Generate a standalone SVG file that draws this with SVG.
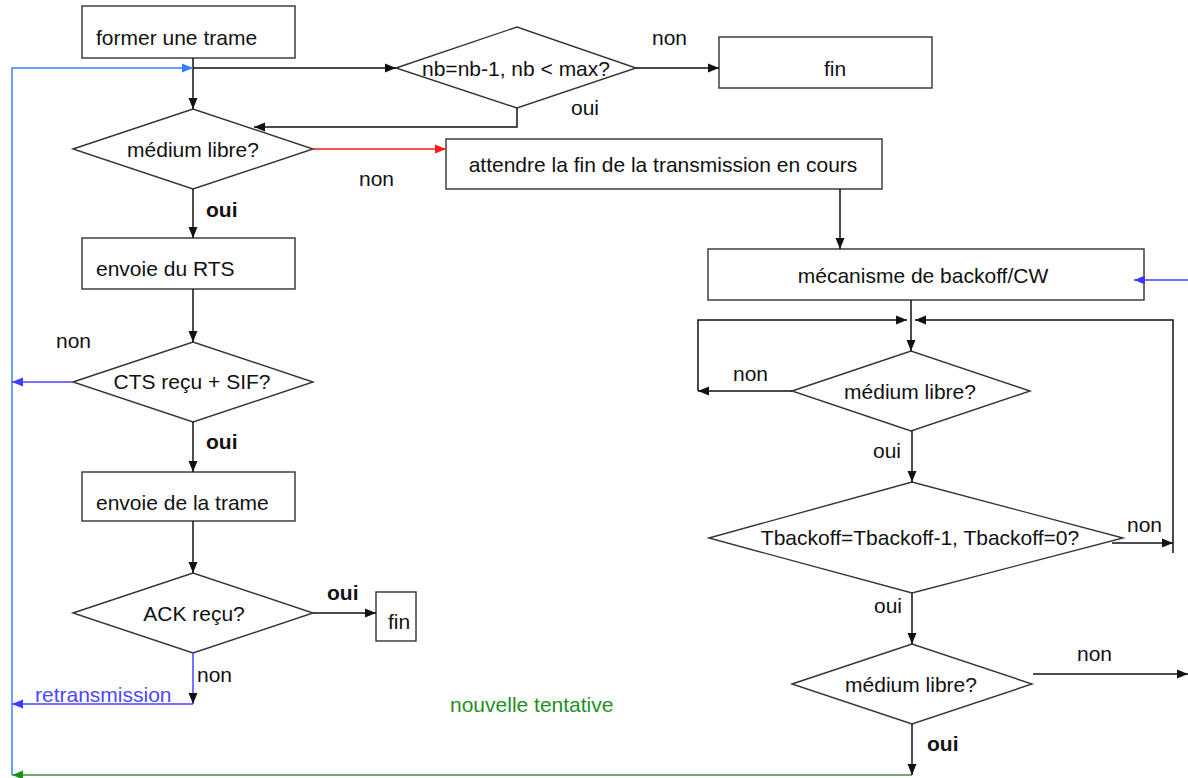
<svg xmlns="http://www.w3.org/2000/svg" width="1188" height="778" viewBox="0 0 1188 778">
<style>
.box{fill:#fff;stroke:#333;stroke-width:1.4}
.t{font-family:"Liberation Sans",Arial,sans-serif;font-size:21px;fill:#111}
.c{text-anchor:middle}
.b{font-weight:bold}
.ln{fill:none;stroke:#111;stroke-width:1.5}
.red{stroke:#ff1a1a}
.blue{stroke:#3385ff}
.purp{stroke:#4646ff}
.green{stroke:#6fae6f;stroke-width:2}
</style>
<defs>
<marker id="ak" markerUnits="userSpaceOnUse" markerWidth="12" markerHeight="10" refX="11" refY="5" orient="auto"><path d="M0,0.5 L11,5 L0,9.5 z" fill="#111"/></marker>
<marker id="ar" markerUnits="userSpaceOnUse" markerWidth="12" markerHeight="10" refX="11" refY="5" orient="auto"><path d="M0,0.5 L11,5 L0,9.5 z" fill="#ff1a1a"/></marker>
<marker id="ab" markerUnits="userSpaceOnUse" markerWidth="12" markerHeight="10" refX="11" refY="5" orient="auto"><path d="M0,0.5 L11,5 L0,9.5 z" fill="#2f7fff"/></marker>
<marker id="ap" markerUnits="userSpaceOnUse" markerWidth="12" markerHeight="10" refX="11" refY="5" orient="auto"><path d="M0,0.5 L11,5 L0,9.5 z" fill="#3c3cff"/></marker>
<marker id="ag" markerUnits="userSpaceOnUse" markerWidth="12" markerHeight="10" refX="11" refY="5" orient="auto"><path d="M0,0.5 L11,5 L0,9.5 z" fill="#1f8f1f"/></marker>
</defs>

<g id="former"><rect class="box" x="82" y="6" width="213" height="52"/><text class="t" x="96" y="45">former une trame</text></g>
<g id="nb"><polygon class="box" points="396,68 517,27 636,68 517,108"/><text class="t c" x="516" y="76">nb=nb-1, nb &lt; max?</text></g>
<g id="fin1"><rect class="box" x="719" y="37" width="213" height="51"/><text class="t c" x="835" y="76">fin</text></g>
<g id="medium1"><polygon class="box" points="73,149 193,109 313,149 193,189"/><text class="t c" x="193" y="157">médium libre?</text></g>
<g id="attendre"><rect class="box" x="446" y="139" width="436" height="50"/><text class="t c" x="663" y="172">attendre la fin de la transmission en cours</text></g>
<g id="rts"><rect class="box" x="82" y="238" width="213" height="51"/><text class="t" x="96" y="276">envoie du RTS</text></g>
<g id="cts"><polygon class="box" points="73,382 193,342 313,382 193,422"/><text class="t c" x="192" y="389">CTS reçu + SIF?</text></g>
<g id="trame"><rect class="box" x="82" y="472" width="213" height="49"/><text class="t" x="96" y="510">envoie de la trame</text></g>
<g id="ack"><polygon class="box" points="73,613 193,573 313,613 193,653"/><text class="t c" x="194" y="621">ACK reçu?</text></g>
<g id="fin2"><rect class="box" x="376" y="592" width="40" height="49"/><text class="t" x="388" y="629">fin</text></g>
<g id="backoff"><rect class="box" x="708" y="249" width="436" height="51"/><text class="t c" x="923" y="283">mécanisme de backoff/CW</text></g>
<g id="medium2"><polygon class="box" points="792,391 911,351 1030,391 911,431"/><text class="t c" x="910" y="399">médium libre?</text></g>
<g id="tbackoff"><polygon class="box" points="709,538 912,482 1123,538 912,593"/><text class="t c" x="920" y="545">Tbackoff=Tbackoff-1, Tbackoff=0?</text></g>
<g id="medium3"><polygon class="box" points="792,684 912,644 1032,684 912,724"/><text class="t c" x="911" y="692">médium libre?</text></g>

<g id="connectors">
<path class="ln" d="M193,58 L193,109" marker-end="url(#ak)"/>
<path class="ln" d="M193,68 L396,68" marker-end="url(#ak)"/>
<path class="ln blue" d="M12,775 L12,68 L193,68" marker-end="url(#ab)"/>
<path class="ln" d="M636,68 L719,68" marker-end="url(#ak)"/>
<path class="ln" d="M517,108 L517,127 L254,127" marker-end="url(#ak)"/>
<path class="ln red" d="M313,149 L446,149" marker-end="url(#ar)"/>
<path class="ln" d="M193,189 L193,238" marker-end="url(#ak)"/>
<path class="ln" d="M193,289 L193,342" marker-end="url(#ak)"/>
<path class="ln purp" d="M73,382 L12,382" marker-end="url(#ap)"/>
<path class="ln" d="M193,422 L193,472" marker-end="url(#ak)"/>
<path class="ln" d="M193,521 L193,573" marker-end="url(#ak)"/>
<path class="ln" d="M313,613 L376,613" marker-end="url(#ak)"/>
<path class="ln purp" d="M193,653 L193,704" marker-end="url(#ak)"/>
<path class="ln purp" d="M193,704 L12,704" marker-end="url(#ap)"/>
<path class="ln green" d="M912,775 L12,775" marker-end="url(#ag)"/>
<path class="ln" d="M840,189 L840,249" marker-end="url(#ak)"/>
<path class="ln purp" d="M1188,280 L1134,280" marker-end="url(#ap)"/>
<path class="ln" d="M911,300 L911,351" marker-end="url(#ak)"/>
<path class="ln" d="M792,391 L698,391" marker-end="url(#ak)"/>
<path class="ln" d="M698,391 L698,320 L907,320" marker-end="url(#ak)"/>
<path class="ln" d="M1112,543 L1173,543" marker-end="url(#ak)"/>
<path class="ln" d="M1173,553 L1173,320 L915,320" marker-end="url(#ak)"/>
<path class="ln" d="M912,431 L912,482" marker-end="url(#ak)"/>
<path class="ln" d="M912,593 L912,644" marker-end="url(#ak)"/>
<path class="ln" d="M1033,674 L1188,674" marker-end="url(#ak)"/>
<path class="ln" d="M912,724 L912,775" marker-end="url(#ak)"/>
</g>

<g id="labels">
<text class="t" x="652" y="45">non</text>
<text class="t" x="571" y="115">oui</text>
<text class="t" x="359" y="186">non</text>
<text class="t b" x="206" y="217">oui</text>
<text class="t" x="56" y="348">non</text>
<text class="t b" x="206" y="449">oui</text>
<text class="t b" x="327" y="600">oui</text>
<text class="t" x="197" y="682">non</text>
<text class="t" x="35" y="702" style="fill:#4a4aff">retransmission</text>
<text class="t" x="450" y="712" style="fill:#1f8f1f">nouvelle tentative</text>
<text class="t" x="733" y="381">non</text>
<text class="t" x="873" y="458">oui</text>
<text class="t" x="1127" y="532">non</text>
<text class="t" x="874" y="613">oui</text>
<text class="t" x="1077" y="661">non</text>
<text class="t b" x="927" y="751">oui</text>
</g>
</svg>
